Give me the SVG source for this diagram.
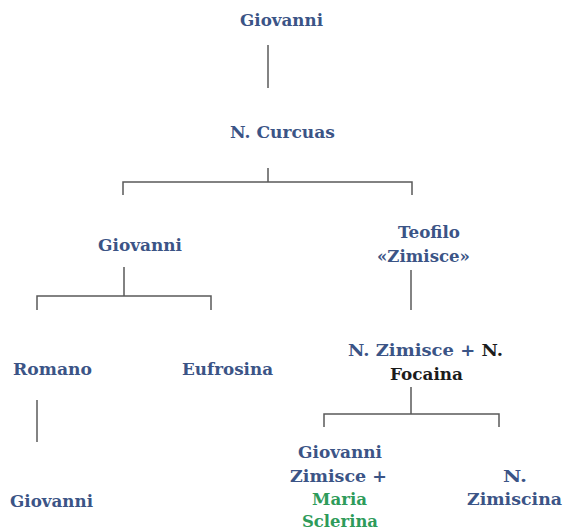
<svg xmlns="http://www.w3.org/2000/svg" width="563" height="530" viewBox="0 0 563 530">
  <style>
    text { font-family: "DejaVu Serif", "Liberation Serif", serif; font-weight: bold; font-size: 17px; text-anchor: middle; fill: #3b5486; }
    .k { fill: #1c1c1c; }
    .g { fill: #2e9b5a; }
    .conn { fill: none; stroke: #5a5a5a; stroke-width: 1.5; }
  </style>
  <rect width="563" height="530" fill="#ffffff"/>

  <g id="connectors">
    <path class="conn" d="M268 45 V88"/>
    <path class="conn" d="M268 168 V182 M123 195 V182 H412 V195"/>
    <path class="conn" d="M124 267 V296 M37 310 V296 H211 V310"/>
    <path class="conn" d="M411 270 V310"/>
    <path class="conn" d="M37 400 V442"/>
    <path class="conn" d="M411 387 V414 M324 427 V414 H499 V427"/>
  </g>

  <g id="giovanni-top"><text x="281.5" y="26" textLength="83" lengthAdjust="spacingAndGlyphs">Giovanni</text></g>
  <g id="n-curcuas"><text x="282.5" y="138" textLength="105" lengthAdjust="spacingAndGlyphs">N. Curcuas</text></g>
  <g id="giovanni"><text x="140" y="251" textLength="84" lengthAdjust="spacingAndGlyphs">Giovanni</text></g>
  <g id="teofilo">
    <text x="429" y="238" textLength="62" lengthAdjust="spacingAndGlyphs">Teofilo</text>
    <text x="423.5" y="262" textLength="93" lengthAdjust="spacingAndGlyphs">«Zimisce»</text>
  </g>
  <g id="romano"><text x="52.5" y="375" textLength="79" lengthAdjust="spacingAndGlyphs">Romano</text></g>
  <g id="eufrosina"><text x="227.5" y="375" textLength="91" lengthAdjust="spacingAndGlyphs">Eufrosina</text></g>
  <g id="n-zimisce">
    <text x="425.5" y="356" textLength="155" lengthAdjust="spacingAndGlyphs">N. Zimisce + <tspan class="k">N.</tspan></text>
    <text class="k" x="426.5" y="380" textLength="73" lengthAdjust="spacingAndGlyphs">Focaina</text>
  </g>
  <g id="giovanni-son"><text x="51.5" y="507" textLength="83" lengthAdjust="spacingAndGlyphs">Giovanni</text></g>
  <g id="giovanni-zimisce">
    <text x="340" y="458" textLength="84" lengthAdjust="spacingAndGlyphs">Giovanni</text>
    <text x="338.5" y="482" textLength="97" lengthAdjust="spacingAndGlyphs">Zimisce +</text>
    <text class="g" x="339.5" y="505" textLength="55" lengthAdjust="spacingAndGlyphs">Maria</text>
    <text class="g" x="340" y="527" textLength="76" lengthAdjust="spacingAndGlyphs">Sclerina</text>
  </g>
  <g id="n-zimiscina">
    <text x="515" y="482" textLength="24" lengthAdjust="spacingAndGlyphs">N.</text>
    <text x="514.5" y="505" textLength="95" lengthAdjust="spacingAndGlyphs">Zimiscina</text>
  </g>
</svg>
